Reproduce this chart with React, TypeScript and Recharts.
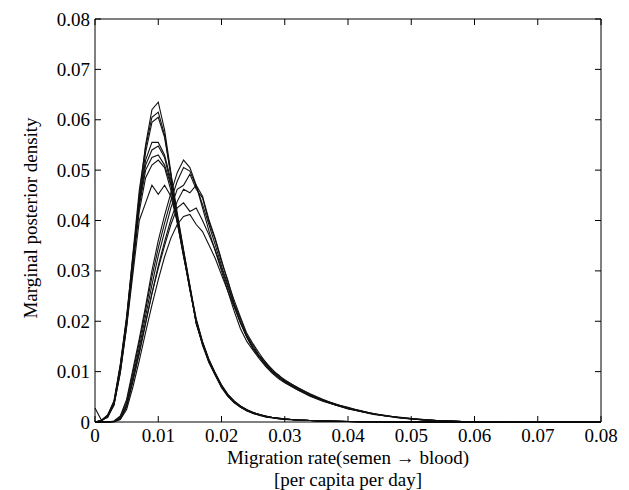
import React from 'react';
import { LineChart, Line, XAxis, YAxis, Label, ReferenceLine } from 'recharts';

// migration rate grid (per capita per day)
const xs = [
  0, 0.001, 0.002, 0.003, 0.004, 0.005, 0.006, 0.007, 0.008, 0.009,
  0.01, 0.011, 0.012, 0.013, 0.014, 0.015, 0.016, 0.017, 0.018, 0.019,
  0.02, 0.021, 0.022, 0.023, 0.024, 0.025, 0.026, 0.027, 0.028, 0.029,
  0.03, 0.032, 0.034, 0.036, 0.038, 0.04, 0.042, 0.044, 0.046, 0.048,
  0.05, 0.052, 0.054, 0.056, 0.058, 0.06, 0.065, 0.07, 0.075, 0.08,
];

// tail of the narrow runs, x = 0.032 .. 0.08
const fastTail = [0.0004, 0.0003, 0.0002, 0.00015, 0.0001, 0.00008, 0.00005, 0.00003, 0, 0, 0, 0, 0, 0, 0, 0, 0, 0, 0];

const fastRun1 = [0, 0.0003, 0.0012, 0.0035, 0.0105, 0.0195, 0.032, 0.045, 0.055, 0.062, 0.0635, 0.058, 0.0495, 0.041, 0.034, 0.027, 0.0195, 0.0155, 0.012, 0.0095, 0.007, 0.0052, 0.0039, 0.003, 0.0023, 0.0018, 0.0014, 0.0011, 0.0009, 0.0007, 0.0006, ...fastTail];
const fastRun2 = [0, 0.0003, 0.0013, 0.0038, 0.011, 0.0205, 0.0335, 0.046, 0.0545, 0.0605, 0.0615, 0.057, 0.049, 0.0405, 0.0335, 0.0265, 0.0198, 0.0152, 0.0118, 0.0093, 0.0068, 0.0051, 0.0038, 0.0029, 0.0022, 0.0017, 0.0013, 0.001, 0.0008, 0.0007, 0.0005, ...fastTail];
const fastRun3 = [0, 0.0002, 0.0011, 0.0033, 0.0098, 0.019, 0.031, 0.044, 0.0535, 0.0595, 0.0605, 0.0565, 0.049, 0.0415, 0.0342, 0.0272, 0.0202, 0.0158, 0.0122, 0.0097, 0.0072, 0.0053, 0.004, 0.0031, 0.0024, 0.0018, 0.0014, 0.0011, 0.0009, 0.0007, 0.0006, ...fastTail];
const fastRun4 = [0, 0.0003, 0.0014, 0.0042, 0.0115, 0.021, 0.033, 0.044, 0.052, 0.0555, 0.0555, 0.053, 0.048, 0.0405, 0.0338, 0.0268, 0.0205, 0.016, 0.0125, 0.0098, 0.0073, 0.0055, 0.0042, 0.0032, 0.0025, 0.0019, 0.0015, 0.0012, 0.0009, 0.0008, 0.0006, ...fastTail];
const fastRun5 = [0, 0.0002, 0.0012, 0.0038, 0.0108, 0.0202, 0.0322, 0.0435, 0.051, 0.054, 0.0548, 0.0525, 0.0472, 0.0398, 0.0332, 0.0265, 0.02, 0.0156, 0.0121, 0.0096, 0.0071, 0.0054, 0.0041, 0.0031, 0.0024, 0.0019, 0.0015, 0.0011, 0.0009, 0.0007, 0.0006, ...fastTail];
const fastRun6 = [0, 0.0003, 0.0013, 0.004, 0.0112, 0.0205, 0.032, 0.0428, 0.05, 0.0525, 0.053, 0.051, 0.047, 0.0402, 0.0336, 0.0262, 0.0198, 0.0154, 0.0122, 0.0094, 0.0072, 0.0053, 0.004, 0.003, 0.0023, 0.0018, 0.0014, 0.0011, 0.0009, 0.0007, 0.0005, ...fastTail];
const fastRun7 = [0, 0.0002, 0.0011, 0.0036, 0.0102, 0.0195, 0.031, 0.0418, 0.0485, 0.051, 0.052, 0.0505, 0.046, 0.0395, 0.033, 0.0262, 0.0202, 0.0157, 0.0123, 0.0097, 0.0074, 0.0055, 0.0041, 0.0032, 0.0024, 0.0019, 0.0015, 0.0012, 0.0009, 0.0008, 0.0006, ...fastTail];
const fastRun8 = [0.0028, 0.0004, 0.0009, 0.0034, 0.0098, 0.0188, 0.0295, 0.04, 0.0435, 0.047, 0.0452, 0.047, 0.0448, 0.0398, 0.0328, 0.0268, 0.0196, 0.0158, 0.0119, 0.0095, 0.0071, 0.0052, 0.0041, 0.0029, 0.0024, 0.0017, 0.0015, 0.001, 0.0009, 0.0006, 0.0006, ...fastTail];

const slowRun1 = [0, 0, 0, 0.0002, 0.0012, 0.0045, 0.0105, 0.0165, 0.023, 0.03, 0.036, 0.041, 0.0455, 0.0495, 0.052, 0.0505, 0.047, 0.0425, 0.038, 0.034, 0.03, 0.026, 0.022, 0.0185, 0.016, 0.0142, 0.0125, 0.011, 0.0097, 0.0086, 0.0078, 0.0064, 0.0052, 0.0042, 0.0034, 0.0027, 0.0021, 0.0016, 0.0012, 0.0009, 0.0006, 0.0004, 0.0003, 0.0002, 0.0001, 0.00005, 0, 0, 0, 0];
const slowRun2 = [0, 0, 0, 0.0001, 0.001, 0.004, 0.0098, 0.0158, 0.0222, 0.0288, 0.0345, 0.0395, 0.044, 0.0478, 0.0505, 0.0498, 0.0468, 0.0432, 0.0392, 0.0352, 0.031, 0.0272, 0.0232, 0.0198, 0.017, 0.0148, 0.013, 0.0116, 0.0101, 0.009, 0.0081, 0.0066, 0.0053, 0.0044, 0.0035, 0.0028, 0.0022, 0.0017, 0.0013, 0.0009, 0.0007, 0.0005, 0.0003, 0.0002, 0.0001, 0.0001, 0, 0, 0, 0];
const slowRun3 = [0, 0, 0, 0.0001, 0.0008, 0.0035, 0.009, 0.0148, 0.021, 0.0272, 0.033, 0.0378, 0.0425, 0.0462, 0.047, 0.0492, 0.0462, 0.0445, 0.0398, 0.0362, 0.0318, 0.0282, 0.0236, 0.0205, 0.0172, 0.0152, 0.0131, 0.0119, 0.0102, 0.0094, 0.0082, 0.0069, 0.0055, 0.0043, 0.0036, 0.0027, 0.0023, 0.0016, 0.0013, 0.0009, 0.0007, 0.0004, 0.0003, 0.0002, 0.0001, 0.0001, 0, 0, 0, 0];
const slowRun4 = [0, 0, 0, 0.0001, 0.0006, 0.003, 0.008, 0.0135, 0.0195, 0.0255, 0.031, 0.0358, 0.0402, 0.0438, 0.0462, 0.0455, 0.047, 0.0448, 0.0402, 0.0365, 0.0322, 0.0278, 0.0242, 0.0208, 0.0176, 0.0155, 0.0136, 0.0118, 0.0105, 0.0092, 0.0084, 0.0068, 0.0056, 0.0045, 0.0035, 0.0029, 0.0022, 0.0017, 0.0012, 0.001, 0.0007, 0.0005, 0.0003, 0.0002, 0.0001, 0.0001, 0, 0, 0, 0];
const slowRun5 = [0, 0, 0, 0.0001, 0.0007, 0.0032, 0.0085, 0.014, 0.0198, 0.0255, 0.0305, 0.035, 0.0392, 0.0425, 0.0435, 0.0418, 0.0425, 0.04, 0.0372, 0.0342, 0.0305, 0.0268, 0.0232, 0.0198, 0.0168, 0.0145, 0.0128, 0.0112, 0.0099, 0.0088, 0.0079, 0.0064, 0.0051, 0.0041, 0.0034, 0.0026, 0.0021, 0.0015, 0.0012, 0.0008, 0.0006, 0.0004, 0.0003, 0.0002, 0.0001, 0.0001, 0, 0, 0, 0];
const slowRun6 = [0, 0, 0, 0, 0.0005, 0.0025, 0.007, 0.0122, 0.0178, 0.0232, 0.0282, 0.0328, 0.0365, 0.0392, 0.0408, 0.0412, 0.0392, 0.0378, 0.0352, 0.0325, 0.0292, 0.026, 0.0228, 0.0196, 0.0168, 0.0146, 0.0129, 0.0113, 0.0101, 0.009, 0.0081, 0.0066, 0.0053, 0.0043, 0.0034, 0.0027, 0.0021, 0.0016, 0.0012, 0.0009, 0.0006, 0.0004, 0.0003, 0.0002, 0.0001, 0.0001, 0, 0, 0, 0];

const runs = [fastRun1, fastRun2, fastRun3, fastRun4, fastRun5, fastRun6, fastRun7, fastRun8,
  slowRun1, slowRun2, slowRun3, slowRun4, slowRun5, slowRun6];

const xTicks = [0, 0.01, 0.02, 0.03, 0.04, 0.05, 0.06, 0.07, 0.08];
const yTicks = [0, 0.01, 0.02, 0.03, 0.04, 0.05, 0.06, 0.07, 0.08];

const data = xs.map((x, i) => {
  const row: Record<string, number> = { x };
  runs.forEach((r, j) => { row['r' + j] = r[i]; });
  return row;
});

const serif = '"Liberation Serif", "Times New Roman", serif';
const fmt = (v: number) => (v === 0 ? '0' : v.toFixed(2));

const XTick = (props: any) => (
  <text x={props.x} y={props.y} dy={14.5} textAnchor="middle" fontFamily={serif} fontSize={19} fill="#000">
    {fmt(props.payload.value)}
  </text>
);
const YTick = (props: any) => (
  <text x={props.x} y={props.y} dy={6.5} textAnchor="end" fontFamily={serif} fontSize={19} fill="#000">
    {fmt(props.payload.value)}
  </text>
);

// inward tick length on the frame, in data units (about 6px)
const tickLenX = 0.00095;
const tickLenY = 0.0012;

export default function App() {
  return (
    <div style={{ position: 'absolute', left: 0, top: 0, width: 629, height: 490, background: '#fff', fontFamily: serif }}>
      <LineChart width={629} height={490} data={data} margin={{ top: 19, right: 28, left: 0, bottom: 0 }}>
        <XAxis
          dataKey="x" type="number" domain={[0, 0.08]} ticks={xTicks} interval={0}
          height={68} tickSize={-6} tickMargin={11}
          axisLine={{ stroke: '#000' }} tickLine={{ stroke: '#000' }} tick={<XTick />}
        >
          <Label
            content={() => (
              <g fontFamily={serif} fontSize={19} fill="#000">
                <text x={348} y={464} textAnchor="middle">Migration rate(semen → blood)</text>
                <text x={348} y={486} textAnchor="middle">[per capita per day]</text>
              </g>
            )}
          />
        </XAxis>
        <YAxis
          type="number" domain={[0, 0.08]} ticks={yTicks} interval={0}
          width={95} tickSize={-6} tickMargin={11}
          axisLine={{ stroke: '#000' }} tickLine={{ stroke: '#000' }} tick={<YTick />}
        >
          <Label
            content={() => (
              <text x={30} y={218} transform="rotate(-90, 30, 218)" textAnchor="middle"
                dominantBaseline="central" fontFamily={serif} fontSize={19} fill="#000">
                Marginal posterior density
              </text>
            )}
          />
        </YAxis>
        {/* box frame: top and right edges with inward ticks */}
        <ReferenceLine y={0.08} stroke="#000" ifOverflow="visible" />
        <ReferenceLine x={0.08} stroke="#000" ifOverflow="visible" />
        {xTicks.map((t) => (
          <ReferenceLine key={'tx' + t} stroke="#000" ifOverflow="visible"
            segment={[{ x: t, y: 0.08 }, { x: t, y: 0.08 - tickLenY }]} />
        ))}
        {yTicks.map((t) => (
          <ReferenceLine key={'ty' + t} stroke="#000" ifOverflow="visible"
            segment={[{ x: 0.08, y: t }, { x: 0.08 - tickLenX, y: t }]} />
        ))}
        {runs.map((_, j) => (
          <Line
            key={j} dataKey={'r' + j} type="linear" stroke="#111" strokeWidth={1.1}
            dot={false} isAnimationActive={false}
          />
        ))}
      </LineChart>
    </div>
  );
}
